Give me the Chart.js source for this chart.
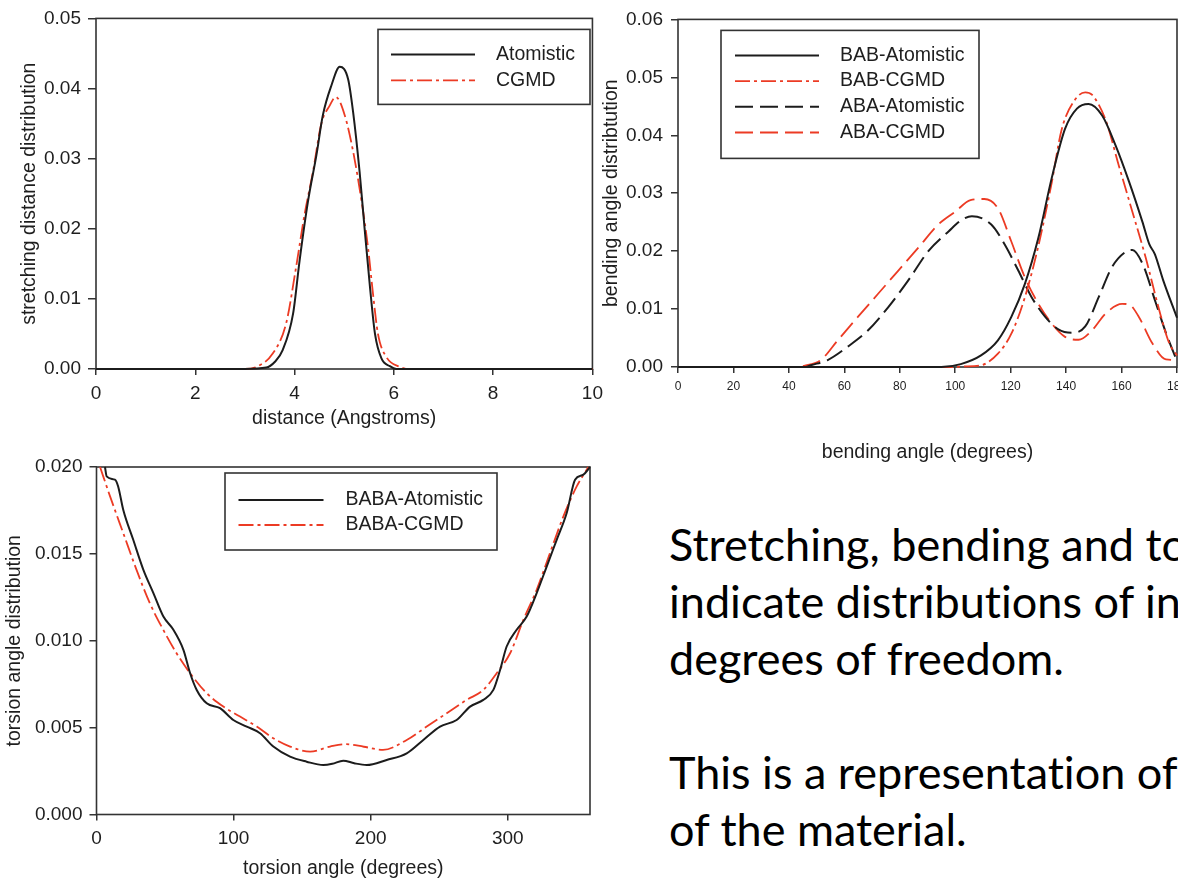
<!DOCTYPE html>
<html>
<head>
<meta charset="utf-8">
<title>Distributions of internal degrees of freedom</title>
<script src="https://cdn.jsdelivr.net/npm/chart.js@4.4.1/dist/chart.umd.min.js"></script>
<style>
  html, body { margin: 0; padding: 0; background: #fff; width: 1178px; height: 880px; overflow: hidden; }
  .panel { position: absolute; }
  .panel canvas { display: block; }
  #p-stretch { left: 0; top: 0; width: 610px; height: 440px; }
  #p-bend { left: 600px; top: 0; width: 600px; height: 470px; }
  #p-torsion { left: 0; top: 440px; width: 610px; height: 440px; }
  #notes {
    position: absolute; left: 669px; top: 516px;
    font-family: Lato, "Open Sans", sans-serif; font-size: 45px; line-height: 57px;
    font-variant-ligatures: none; font-feature-settings: "liga" 0;
    color: #000; white-space: nowrap;
  }
</style>
</head>
<body>
<div class="panel" id="p-stretch"><canvas id="stretch-chart"></canvas></div>
<div class="panel" id="p-bend"><canvas id="bend-chart"></canvas></div>
<div class="panel" id="p-torsion"><canvas id="torsion-chart"></canvas></div>
<div id="notes">
  Stretching, bending and torsion plots<br>
  indicate distributions of internal<br>
  degrees of freedom.<br>
  <br>
  This is a representation of the structure<br>
  of the material.
</div>

<script>
// ── stretching distance (Angstroms) ──────────────────────────────────────────
const stretchAtomX = [0, 3.0, 3.43, 3.6, 3.76, 3.97, 4.10, 4.27, 4.44, 4.57, 4.74, 4.91, 5.08, 5.18, 5.31, 5.41, 5.52, 5.62, 5.75, 5.92, 6.05, 10];
const stretchAtomY = [0, 0, 0.0002, 0.0010, 0.0027, 0.0079, 0.0154, 0.0239, 0.0305, 0.0362, 0.0404, 0.0431, 0.0413, 0.0366, 0.0281, 0.0201, 0.0116, 0.0050, 0.0015, 0.0004, 0, 0];
const stretchCgX = [0.3, 3.0, 3.23, 3.56, 3.83, 4.03, 4.20, 4.37, 4.54, 4.71, 4.83, 5.01, 5.18, 5.35, 5.48, 5.58, 5.68, 5.85, 6.12, 6.3, 10];
const stretchCgY = [0, 0, 0.0003, 0.0022, 0.0065, 0.0145, 0.0220, 0.0281, 0.0350, 0.0376, 0.0388, 0.0362, 0.0310, 0.0239, 0.0173, 0.0107, 0.0050, 0.0017, 0.0003, 0, 0];
const stretchXTicks = ["0", "2", "4", "6", "8", "10"];
const stretchYTicks = ["0.00", "0.01", "0.02", "0.03", "0.04", "0.05"];

// ── bending angle (degrees) ──────────────────────────────────────────────────
const babAtomX = [0, 95, 102, 109.3, 115.4, 120.2, 125.1, 130, 134.8, 139.6, 143.9, 148.1, 153, 157.8, 162.7, 167.5, 170, 172, 175, 180];
const babAtomY = [0, 0, 0.0005, 0.0020, 0.0046, 0.0086, 0.0143, 0.0223, 0.0326, 0.0411, 0.0446, 0.0454, 0.0434, 0.0383, 0.0320, 0.0251, 0.0212, 0.0195, 0.0150, 0.0085];
const babCgX = [0, 100, 103, 109.3, 115.4, 120.2, 125.1, 130, 134.8, 138.4, 143.3, 146.9, 149.3, 154.2, 159, 163.9, 168.7, 173.6, 177.2, 180];
const babCgY = [0, 0, 0.0001, 0.0003, 0.0023, 0.0057, 0.0120, 0.0209, 0.0318, 0.0410, 0.0462, 0.0474, 0.0470, 0.0427, 0.0348, 0.0268, 0.0189, 0.0098, 0.0041, 0.0020];
const abaAtomX = [0, 46, 47.9, 54, 61.2, 68.5, 75.8, 83, 90.3, 97.6, 102.4, 106, 113, 117.8, 122.7, 127.5, 132.4, 137.2, 142.1, 146.9, 151.8, 156.6, 161.5, 163.9, 167.5, 172.4, 176, 180];
const abaAtomY = [0, 0, 0.0003, 0.0012, 0.0035, 0.0063, 0.0103, 0.0149, 0.0200, 0.0234, 0.0254, 0.0260, 0.0246, 0.0212, 0.0167, 0.0121, 0.0087, 0.0065, 0.0059, 0.0070, 0.0121, 0.0173, 0.0199, 0.0202, 0.0179, 0.0110, 0.0059, 0.0010];
const abaCgX = [0, 43, 45.5, 51.5, 57.6, 64.8, 72.1, 79.4, 86.7, 93.9, 100, 105.5, 110.5, 115.4, 120.2, 125.1, 130, 134.8, 139.6, 144.5, 149.3, 154.2, 160.2, 162.7, 166.3, 171.1, 176, 180];
const abaCgY = [0, 0, 0.0002, 0.0012, 0.0046, 0.0086, 0.0126, 0.0166, 0.0206, 0.0246, 0.0268, 0.0288, 0.0290, 0.0274, 0.0217, 0.0155, 0.0109, 0.0075, 0.0052, 0.0047, 0.0063, 0.0092, 0.0109, 0.0108, 0.0086, 0.0041, 0.0013, 0.0012];
const bendXTicks = ["0", "20", "40", "60", "80", "100", "120", "140", "160", "180"];
const bendYTicks = ["0.00", "0.01", "0.02", "0.03", "0.04", "0.05", "0.06"];

// ── torsion angle (degrees) ──────────────────────────────────────────────────
const torsAtomX = [6.2, 7.4, 13.4, 15.8, 19.5, 26.8, 34.2, 41.5, 48.8, 56.1, 63.4, 68.3, 73.1, 80.4, 90.1, 99.8, 109.6, 119.3, 129.0, 141.2, 153.3, 165.5, 172, 180, 188, 197.1, 211.7, 226.3, 238.4, 250.6, 262.7, 272.5, 282.2, 289.5, 294.4, 299.2, 306.5, 313.8, 321.1, 328.4, 335.7, 343.0, 349.1, 355.2, 360];
const torsAtomY = [0.0200, 0.01946, 0.01927, 0.01888, 0.01754, 0.01581, 0.01408, 0.01274, 0.01139, 0.01063, 0.00948, 0.00813, 0.00717, 0.00640, 0.00612, 0.00544, 0.00506, 0.00468, 0.00391, 0.00333, 0.00304, 0.00285, 0.00292, 0.00310, 0.00295, 0.00285, 0.00314, 0.00352, 0.00429, 0.00506, 0.00544, 0.00621, 0.00660, 0.00717, 0.00832, 0.00967, 0.01063, 0.01139, 0.01274, 0.01427, 0.01581, 0.01735, 0.01927, 0.01956, 0.0200];
const torsCgX = [2.6, 9.9, 19.5, 29.2, 38.9, 48.7, 58.4, 68.3, 80.4, 92.5, 104.7, 116.9, 129.0, 141.2, 155.8, 170.4, 182, 195, 209, 226.3, 240.9, 255.5, 270.1, 282.2, 291.9, 301.7, 311.4, 321.1, 330.8, 340.6, 350.3, 358.8];
const torsCgY = [0.0200, 0.01831, 0.01620, 0.01408, 0.01216, 0.01063, 0.00928, 0.00813, 0.00698, 0.00621, 0.00564, 0.00506, 0.00439, 0.00391, 0.00362, 0.00391, 0.00405, 0.00390, 0.00372, 0.00429, 0.00506, 0.00583, 0.00660, 0.00717, 0.00813, 0.00928, 0.01120, 0.01293, 0.01505, 0.01716, 0.01888, 0.0200];
const torsXTicks = ["0", "100", "200", "300"];
const torsYTicks = ["0.000", "0.005", "0.010", "0.015", "0.020"];

const COLOURS = {
  atom:  "#1c1c1c",
  cgmd:  "#ec3b24",
  frame: "#333333",
  text:  "#1e1e1e",
};
const FONT = '"Liberation Sans", Arial, sans-serif';
const DASH_DOT = [15, 4, 3, 4];
const DASH = [18, 7];

Chart.defaults.font.family = FONT;
Chart.defaults.color = COLOURS.text;

const toPoints = (xs, ys) => xs.map((x, i) => ({ x, y: ys[i] }));

function series(label, xs, ys, colour, dash, width) {
  return {
    label,
    data: toPoints(xs, ys),
    borderColor: colour,
    backgroundColor: "transparent",
    borderWidth: width,
    borderDash: dash,
    showLine: true,
    pointRadius: 0,
    cubicInterpolationMode: "monotone",
    clip: 3,
  };
}

/** Box round the plot area, under the curves. */
const plotFrame = {
  id: "plotFrame",
  beforeDatasetsDraw(chart) {
    const { ctx, chartArea: a } = chart;
    ctx.save();
    ctx.strokeStyle = COLOURS.frame;
    ctx.lineWidth = 1.6;
    ctx.strokeRect(a.left, a.top, a.right - a.left, a.bottom - a.top);
    ctx.restore();
  },
};

/** Framed legend inside the plot: line sample, then label. */
const boxLegend = {
  id: "boxLegend",
  afterDraw(chart, args, o) {
    const { ctx, chartArea: a } = chart;
    const x = a.left + o.left, y = a.top + o.top;
    ctx.save();
    ctx.fillStyle = "#fff";
    ctx.fillRect(x, y, o.width, o.height);
    ctx.strokeStyle = COLOURS.frame;
    ctx.lineWidth = 1.6;
    ctx.strokeRect(x, y, o.width, o.height);
    ctx.font = `${o.fontSize}px ${FONT}`;
    ctx.textBaseline = "middle";
    chart.data.datasets.forEach((ds, i) => {
      const ry = y + o.firstRow + i * o.rowGap;
      ctx.beginPath();
      ctx.setLineDash(ds.borderDash || []);
      ctx.strokeStyle = ds.borderColor;
      ctx.lineWidth = ds.borderWidth;
      ctx.moveTo(x + o.lineStart, ry);
      ctx.lineTo(x + o.lineEnd, ry);
      ctx.stroke();
      ctx.setLineDash([]);
      ctx.fillStyle = COLOURS.text;
      ctx.fillText(ds.label, x + o.textStart, ry);
    });
    ctx.restore();
  },
};

function makeAxis(cfg) {
  const horizontal = cfg.pos === "x";
  return {
    type: "linear",
    min: cfg.min,
    max: cfg.max,
    afterBuildTicks: (s) => { s.ticks = cfg.labels.map((l) => ({ value: parseFloat(l) })); },
    afterFit: (s) => { if (horizontal) s.height = cfg.size; else s.width = cfg.size; },
    ticks: {
      callback: (v, i) => cfg.labels[i],
      font: { size: cfg.tickFont },
      color: COLOURS.text,
      padding: cfg.tickPad,
      maxRotation: 0,
      autoSkip: false,
    },
    grid: {
      drawOnChartArea: false,
      drawTicks: true,
      tickLength: cfg.tickLen,
      color: COLOURS.frame,
      lineWidth: 1.5,
    },
    border: { display: false },
    title: {
      display: true,
      text: cfg.title,
      font: { size: 19.5 },
      color: COLOURS.text,
      padding: horizontal ? { top: 0, bottom: cfg.titlePad } : { top: cfg.titlePad, bottom: 0 },
    },
  };
}

function baseOptions(padding, scales, legend) {
  return {
    responsive: true,
    maintainAspectRatio: false,
    animation: false,
    events: [],
    layout: { padding },
    plugins: { legend: { display: false }, tooltip: { enabled: false }, boxLegend: legend },
    scales,
  };
}

// ── stretching chart ─────────────────────────────────────────────────────────
new Chart(document.getElementById("stretch-chart"), {
  type: "scatter",
  data: {
    datasets: [
      series("Atomistic", stretchAtomX, stretchAtomY, COLOURS.atom, [], 2),
      series("CGMD", stretchCgX, stretchCgY, COLOURS.cgmd, DASH_DOT, 1.8),
    ],
  },
  options: baseOptions(
    { top: 16, right: 16, left: 0, bottom: 0 },
    {
      x: makeAxis({ pos: "x", min: 0, max: 10, labels: stretchXTicks, size: 71, tickFont: 19, tickPad: 7, tickLen: 6,
                    title: "distance (Angstroms)", titlePad: 10 }),
      y: makeAxis({ pos: "y", min: 0, max: 0.05, labels: stretchYTicks, size: 96, tickFont: 19, tickPad: 7, tickLen: 8,
                    title: "stretching distance distribution", titlePad: 18 }),
    },
    { left: 282, top: 11, width: 212, height: 75, firstRow: 25, rowGap: 26, lineStart: 13, lineEnd: 97, textStart: 118, fontSize: 19.5 }
  ),
  plugins: [plotFrame, boxLegend],
});

// ── bending chart ────────────────────────────────────────────────────────────
new Chart(document.getElementById("bend-chart"), {
  type: "scatter",
  data: {
    datasets: [
      series("BAB-Atomistic", babAtomX, babAtomY, COLOURS.atom, [], 2),
      series("BAB-CGMD", babCgX, babCgY, COLOURS.cgmd, DASH_DOT, 1.8),
      series("ABA-Atomistic", abaAtomX, abaAtomY, COLOURS.atom, DASH, 2),
      series("ABA-CGMD", abaCgX, abaCgY, COLOURS.cgmd, DASH, 1.8),
    ],
  },
  options: baseOptions(
    { top: 17, right: 23, left: 0, bottom: 0 },
    {
      x: makeAxis({ pos: "x", min: 0, max: 180, labels: bendXTicks, size: 103, tickFont: 12, tickPad: 6, tickLen: 6,
                    title: "bending angle (degrees)", titlePad: 6 }),
      y: makeAxis({ pos: "y", min: 0, max: 0.06, labels: bendYTicks, size: 78, tickFont: 19, tickPad: 8, tickLen: 7,
                    title: "bending angle distribtution", titlePad: 0 }),
    },
    { left: 43, top: 11, width: 258, height: 128, firstRow: 25, rowGap: 25.7, lineStart: 14, lineEnd: 98, textStart: 119, fontSize: 19.5 }
  ),
  plugins: [plotFrame, boxLegend],
});

// ── torsion chart ────────────────────────────────────────────────────────────
new Chart(document.getElementById("torsion-chart"), {
  type: "scatter",
  data: {
    datasets: [
      series("BABA-Atomistic", torsAtomX, torsAtomY, COLOURS.atom, [], 2),
      series("BABA-CGMD", torsCgX, torsCgY, COLOURS.cgmd, DASH_DOT, 1.8),
    ],
  },
  options: baseOptions(
    { top: 27, right: 20, left: 0, bottom: 0 },
    {
      x: makeAxis({ pos: "x", min: 0, max: 360, labels: torsXTicks, size: 65.5, tickFont: 19, tickPad: 7, tickLen: 6,
                    title: "torsion angle (degrees)", titlePad: 0 }),
      y: makeAxis({ pos: "y", min: 0, max: 0.02, labels: torsYTicks, size: 96.5, tickFont: 19, tickPad: 7, tickLen: 7,
                    title: "torsion angle distribution", titlePad: 3 }),
    },
    { left: 128.5, top: 6, width: 272, height: 77, firstRow: 27, rowGap: 25, lineStart: 13.5, lineEnd: 98.5, textStart: 120.5, fontSize: 19.5 }
  ),
  plugins: [plotFrame, boxLegend],
});
</script>
</body>
</html>
